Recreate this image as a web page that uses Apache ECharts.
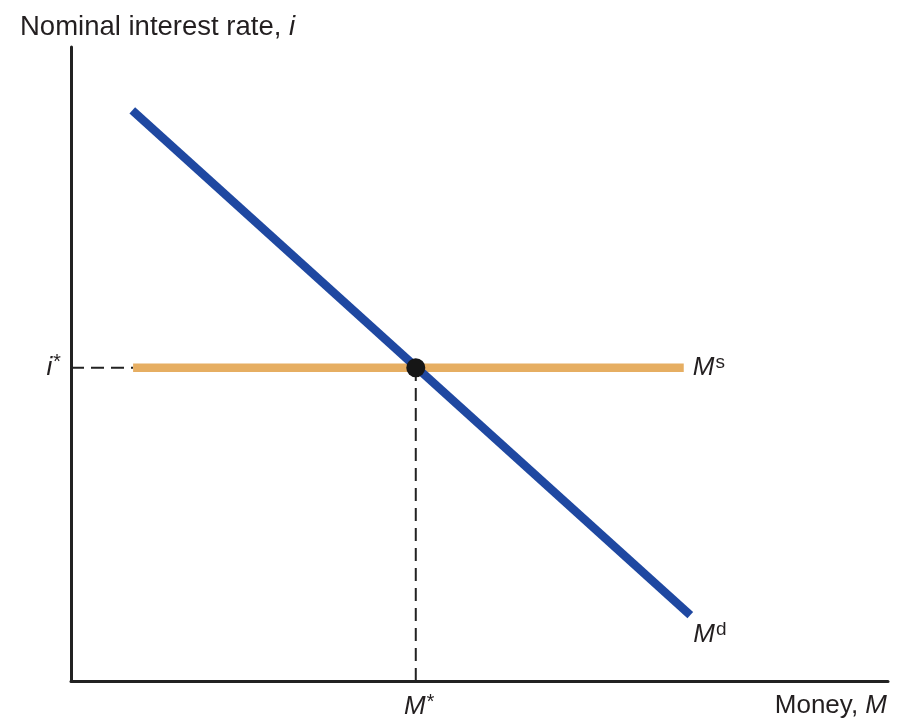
<!DOCTYPE html>
<html>
<head>
<meta charset="utf-8">
<script src="https://cdn.jsdelivr.net/npm/echarts@6/dist/echarts.min.js"></script>
<style>
html,body{margin:0;padding:0;background:#fff;}
#chart{width:907px;height:721px;}
</style>
</head>
<body>
<div id="chart"></div>
<script>
// ---- data (arbitrary units, axes 0..100) ----
const moneyDemand = [[7.5, 90.0], [75.8, 10.4]];   // Md curve
const moneySupply = [[7.6, 49.4], [75.0, 49.4]];   // Ms line
const equilibrium = [42.2, 49.4];                  // (M*, i*)
const yAxisTitle = ['Nominal interest rate, ', 'i'];
const xAxisTitle = ['Money, ', 'M'];
const eqXLabel = ['M', '*'];
const eqYLabel = ['i', '*'];
const supplyLabel = ['M', 's'];
const demandLabel = ['M', 'd'];

const FONT = 'Liberation Sans, Arial, Helvetica, sans-serif';
const TXT = '#231f20';
const richStyles = {
  n:   { fontFamily: FONT, fontSize: 26, fontWeight: 'normal', color: TXT, lineHeight: 30 },
  it:  { fontFamily: FONT, fontSize: 26, fontWeight: 'normal', fontStyle: 'italic', color: TXT, lineHeight: 30 },
  tn:  { fontFamily: FONT, fontSize: 27.5, fontWeight: 'normal', color: TXT, lineHeight: 30 },
  tit: { fontFamily: FONT, fontSize: 27.5, fontWeight: 'normal', fontStyle: 'italic', color: TXT, lineHeight: 30 },
  sup: { fontFamily: FONT, fontSize: 19, fontWeight: 'normal', color: TXT, lineHeight: 21, verticalAlign: 'top', padding: [0, 0, 0, 1] },
  ast: { fontFamily: FONT, fontSize: 20, fontWeight: 'normal', fontStyle: 'italic', color: TXT, lineHeight: 24, verticalAlign: 'top' }
};

const chart = echarts.init(document.getElementById('chart'), null, { renderer: 'canvas' });

const hidden = { show: false };
function labeledPoint(value, label) {
  return { value: value, label: Object.assign({ show: true, rich: richStyles }, label) };
}

const option = {
  backgroundColor: '#ffffff',
  animation: false,
  title: [
    {
      text: '{tn|' + yAxisTitle[0] + '}{tit|' + yAxisTitle[1] + '}',
      left: 20, top: 12, padding: 0,
      textStyle: { fontWeight: 'normal', rich: richStyles }
    },
    {
      text: '{n|' + xAxisTitle[0] + '}{it|' + xAxisTitle[1] + '}',
      right: 20, top: 691, padding: 0,
      textStyle: { fontWeight: 'normal', rich: richStyles }
    }
  ],
  grid: { left: 71, right: 19, top: 47, bottom: 40 },
  xAxis: {
    type: 'value', min: 0, max: 100,
    axisLine: { show: true, onZero: false, lineStyle: { color: '#222', width: 3 } },
    axisTick: hidden, axisLabel: hidden, splitLine: hidden
  },
  yAxis: {
    type: 'value', min: 0, max: 100,
    axisLine: { show: true, onZero: false, lineStyle: { color: '#222', width: 3 } },
    axisTick: hidden, axisLabel: hidden, splitLine: hidden
  },
  series: [
    {
      name: 'guide-h', type: 'line', silent: true,
      symbol: 'circle', symbolSize: 0, showSymbol: true,
      lineStyle: { color: '#222', width: 2, type: [13, 7] },
      data: [
        labeledPoint([0, equilibrium[1]], {
          position: 'left', distance: 11,
          formatter: '{it|' + eqYLabel[0] + '}{ast|' + eqYLabel[1] + '}'
        }),
        { value: [moneySupply[0][0], equilibrium[1]], label: { show: false } }
      ],
      z: 1
    },
    {
      name: 'guide-v', type: 'line', silent: true,
      symbol: 'circle', symbolSize: 0, showSymbol: true,
      lineStyle: { color: '#222', width: 2, type: [13, 7] },
      data: [
        labeledPoint([equilibrium[0], 0], {
          position: 'bottom', distance: 11, offset: [3, 0],
          formatter: '{it|' + eqXLabel[0] + '}{ast|' + eqXLabel[1] + '}'
        }),
        { value: [equilibrium[0], equilibrium[1]], label: { show: false } }
      ],
      z: 1
    },
    {
      name: 'Ms', type: 'line', silent: true,
      symbol: 'circle', symbolSize: 0, showSymbol: true,
      lineStyle: { color: '#e6ae62', width: 8.5, cap: 'butt' },
      data: [
        { value: moneySupply[0], label: { show: false } },
        labeledPoint(moneySupply[1], {
          position: 'right', distance: 9,
          formatter: '{it|' + supplyLabel[0] + '}{sup|' + supplyLabel[1] + '}'
        })
      ],
      z: 2
    },
    {
      name: 'Md', type: 'line', silent: true,
      symbol: 'circle', symbolSize: 0, showSymbol: true,
      lineStyle: { color: '#1f48a1', width: 8.5, cap: 'butt' },
      data: [
        { value: moneyDemand[0], label: { show: false } },
        labeledPoint(moneyDemand[1], {
          position: 'right', distance: 3, offset: [0, 20],
          formatter: '{it|' + demandLabel[0] + '}{sup|' + demandLabel[1] + '}'
        })
      ],
      z: 3
    },
    {
      name: 'equilibrium', type: 'scatter', silent: true,
      symbolSize: 19,
      itemStyle: { color: '#161616', opacity: 1 },
      data: [equilibrium],
      z: 5
    }
  ]
};
chart.setOption(option);
</script>
</body>
</html>
